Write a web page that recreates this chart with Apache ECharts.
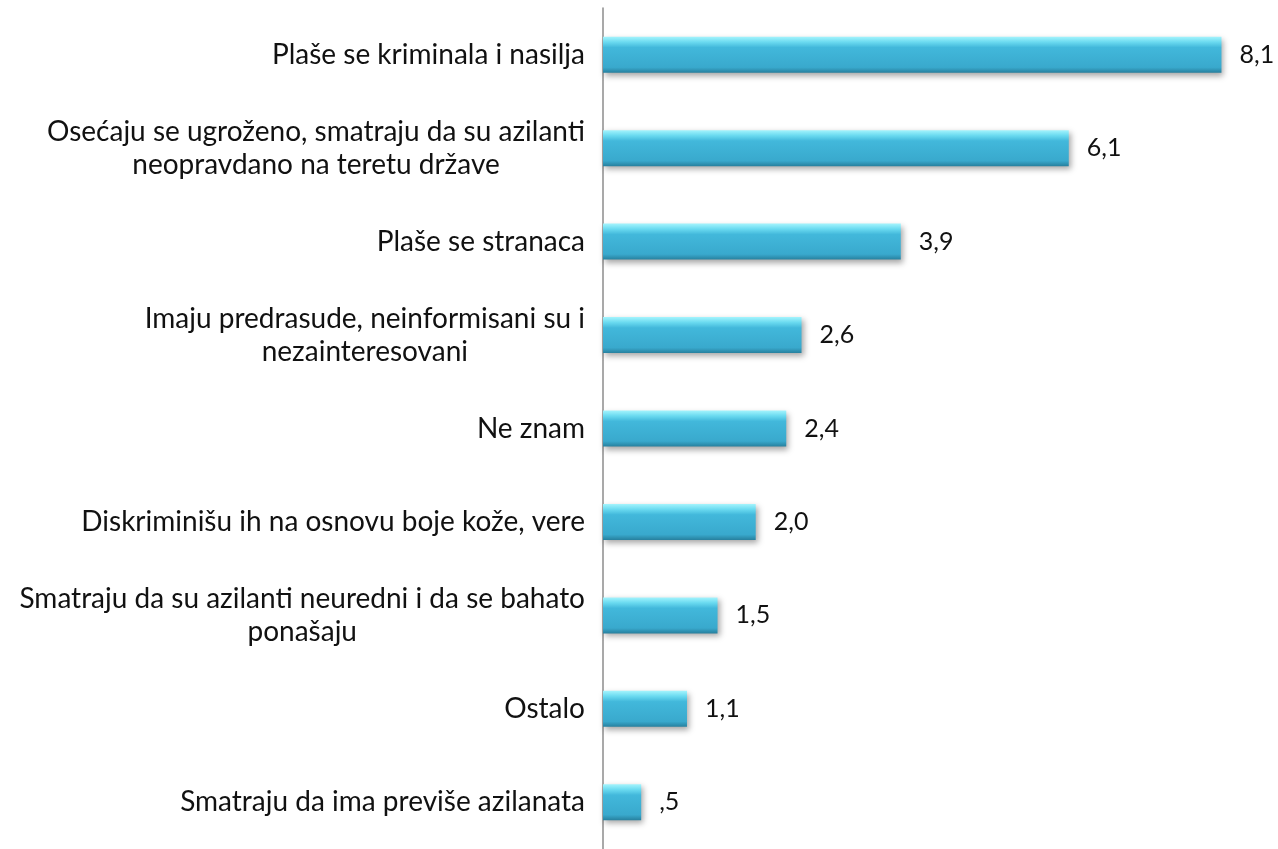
<!DOCTYPE html>
<html>
<head>
<meta charset="utf-8">
<script src="https://cdn.jsdelivr.net/npm/echarts@6/dist/echarts.min.js"></script>
<style>
  html, body { margin: 0; padding: 0; background: #fff; }
  #main { width: 1278px; height: 849px; }
</style>
</head>
<body>
<div id="main"></div>
<script>
// kategorije (odozgo nadole) i vrednosti u %
var categories = [
  'Plaše se kriminala i nasilja',
  'Osećaju se ugroženo, smatraju da su azilanti\nneopravdano na teretu države',
  'Plaše se stranaca',
  'Imaju predrasude, neinformisani su i\nnezainteresovani',
  'Ne znam',
  'Diskriminišu ih na osnovu boje kože, vere',
  'Smatraju da su azilanti neuredni i da se bahato\nponašaju',
  'Ostalo',
  'Smatraju da ima previše azilanata'
];
var values = [8.1, 6.1, 3.9, 2.6, 2.4, 2.0, 1.5, 1.1, 0.5];

function fmtValue(v) {
  // 0.5 -> ",5", 8.1 -> "8,1"
  return v.toFixed(1).replace('.', ',').replace(/^0/, '');
}

var myChart = echarts.init(document.getElementById('main'));
var option = {
  animation: false,
  grid: { left: 603, right: 26, top: 8, height: 850, containLabel: false },
  xAxis: {
    type: 'value',
    min: 0,
    max: 8.5,
    show: false
  },
  yAxis: {
    type: 'category',
    data: categories,
    inverse: true,
    axisLine: { show: true, lineStyle: { color: '#8c8c8c', width: 1.5 } },
    axisTick: { show: false },
    axisLabel: {
      margin: 18,
      align: 'right',
      color: '#111',
      fontFamily: 'Lato',
      fontSize: 28,
      formatter: function (val) {
        return val.split('\n').map(function (l) { return '{c|' + l + '}'; }).join('\n');
      },
      rich: {
        c: { align: 'center', fontFamily: 'Lato', fontSize: 28, lineHeight: 33, color: '#111' }
      }
    }
  },
  series: [{
    type: 'bar',
    data: values,
    barWidth: 36,
    itemStyle: {
      color: new echarts.graphic.LinearGradient(0, 0, 0, 1, [
        { offset: 0, color: '#a4f4fd' },
        { offset: 0.15, color: '#6adaf0' },
        { offset: 0.3, color: '#42b8db' },
        { offset: 0.85, color: '#39a9cd' },
        { offset: 1, color: '#27809e' }
      ]),
      shadowColor: 'rgba(0,0,0,0.35)',
      shadowBlur: 6,
      shadowOffsetY: 3,
      shadowOffsetX: 2
    },
    label: {
      show: true,
      position: 'right',
      distance: 18,
      color: '#111',
      fontFamily: 'Lato',
      fontSize: 25,
      formatter: function (p) { return fmtValue(p.value); }
    }
  }]
};
myChart.setOption(option);
</script>
</body>
</html>
